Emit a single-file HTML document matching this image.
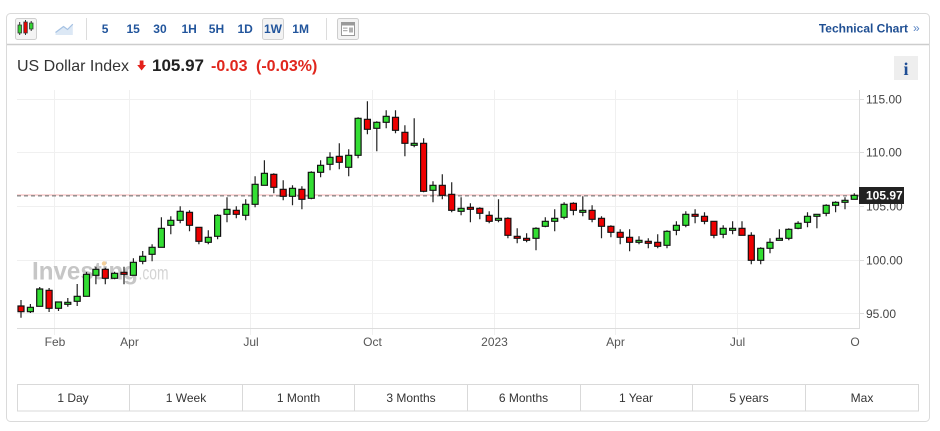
<!DOCTYPE html>
<html><head><meta charset="utf-8"><style>
html,body{margin:0;padding:0;background:#fff;}
body{width:940px;height:431px;overflow:hidden;font-family:"Liberation Sans",Arial,sans-serif;}
svg{display:block;}
</style></head><body>
<svg width="940" height="431" viewBox="0 0 940 431" xmlns="http://www.w3.org/2000/svg" font-family="Liberation Sans, Arial, sans-serif">
<rect x="6.5" y="13.5" width="923" height="408" rx="4" fill="#fff" stroke="#dadada"/>
<line x1="7" y1="44.5" x2="929" y2="44.5" stroke="#cdcdcd" stroke-width="1.5"/>
<rect x="15.5" y="18.5" width="21" height="21" rx="2" fill="#f4f4f4" stroke="#cfcfcf"/>
<path d="M19.7 22V35 M25.5 20V35 M31.2 21V31" stroke="#333" stroke-width="1"/>
<path d="M18 25h3.5v8h-3.5z M29.5 23h3.5v6h-3.5z" fill="#33d633" stroke="#333" stroke-width="0.8"/>
<path d="M23.8 22h3.5v11h-3.5z" fill="#e00" stroke="#333" stroke-width="0.8"/>
<path d="M55.5 35 L55.5 32.5 L63.5 26.5 L67.5 29.5 L72.8 24.2 L72.8 35 Z" fill="#dce8f5"/>
<path d="M55.5 32.5 L63.5 26.5 L67.5 29.5 L72.8 24.2" fill="none" stroke="#a6c2e3" stroke-width="1.2"/>
<path d="M86.5 18V40 M326.5 18V40" stroke="#dcdcdc"/>
<rect x="262.5" y="18.5" width="21" height="21" rx="2" fill="#f3f3f3" stroke="#d2d2d2"/>
<g font-size="12" font-weight="bold" fill="#22559c">
<text x="101.7" y="33">5</text><text x="126.5" y="33">15</text><text x="153.3" y="33">30</text><text x="181.5" y="33">1H</text><text x="208.8" y="33">5H</text><text x="237.5" y="33">1D</text><text x="264" y="33">1W</text><text x="292.3" y="33">1M</text>
</g>
<rect x="337.5" y="18.5" width="21" height="21" rx="2" fill="#f3f3f3" stroke="#cdcdcd"/>
<rect x="341.5" y="22.5" width="13" height="13" fill="#fff" stroke="#9a9a9a"/>
<path d="M342 23h12v2.5h-12z" fill="#9a9a9a"/>
<path d="M343 27.5h4.5v1.3h-4.5z M343 30h4.5v1.3h-4.5z M349 27.5h4v5h-4z" fill="#b0b0b0"/>
<text x="908" y="32.5" font-size="12" font-weight="bold" fill="#1f4f93" text-anchor="end">Technical Chart</text>
<text x="913" y="32" font-size="12" fill="#5b86c4">»</text>
<text x="17" y="71" font-size="16" fill="#333">US Dollar Index</text>
<path d="M139.7 60.5 H143.5 V65 H146 L141.6 70.5 L137.2 65 H139.7 Z" fill="#e3211a"/>
<text x="152" y="71" font-size="17" font-weight="bold" fill="#222">105.97</text>
<text x="211" y="71" font-size="16" font-weight="bold" fill="#e0261d">-0.03</text>
<text x="256" y="71" font-size="16" font-weight="bold" fill="#e0261d">(-0.03%)</text>
<rect x="894" y="56" width="24" height="24" fill="#eeeeee"/>
<text x="906" y="75" font-size="18" font-weight="bold" fill="#1f4e95" text-anchor="middle" font-family="Liberation Serif, serif">i</text>
<path stroke="#f0f0f0" fill="none" d="M17 99.5H859 M17 152.5H859 M17 206.5H859 M17 260.5H859 M17 313.5H859 M54.5 90V335 M129.5 90V335 M250.5 90V335 M372.5 90V335 M494.5 90V335 M615.5 90V335 M737.5 90V335"/>
<path stroke="#dcdcdc" fill="none" d="M17 328.5H860 M859.5 90V329 M859 99.5H864 M859 152.5H864 M859 206.5H864 M859 260.5H864 M859 313.5H864"/>
<text x="32" y="279.5" font-size="25" font-weight="bold" fill="#c6c6c6" textLength="106" lengthAdjust="spacingAndGlyphs">Investing</text>
<text x="138.5" y="279.5" font-size="19" fill="#d4d4d4" textLength="30" lengthAdjust="spacingAndGlyphs">.com</text>
<circle cx="104" cy="263.5" r="2.2" fill="#f3cf9a"/>
<line x1="17" y1="195" x2="859" y2="195" stroke="#f4b0b0" stroke-width="1"/>
<line x1="17" y1="195.8" x2="859" y2="195.8" stroke="#8c8c8c" stroke-width="1.4" stroke-dasharray="4,3"/>
<path fill="none" stroke="#222" stroke-width="1.2" d="M21 300V317.7 M30.4 304V313 M39.7 287V306.3 M49.1 288V312 M58.5 302V311 M67.8 298V306.7 M77.2 284V306 M86.5 272V296.3 M95.9 266.7V284.3 M105.3 267.7V284.3 M114.6 271.7V279.3 M124 266.7V284.3 M133.4 258.3V275.3 M142.7 251V264.3 M152.1 244.3V261.3 M161.4 217.3V247.3 M170.8 216.3V234.3 M180.2 206.3V223.3 M189.5 210.3V231.3 M198.9 227.3V244.3 M208.3 230.3V244.3 M217.6 214.3V239.3 M227 197.3V222.3 M236.3 206.3V218.3 M245.7 199.3V220.3 M255.1 176.3V207.3 M264.4 160.3V185.3 M273.8 173.3V193.3 M283.2 180.3V200.3 M292.5 185.3V205.3 M301.9 186.3V209.3 M311.3 171.3V199.3 M320.6 160.3V177.3 M330 152.3V170.3 M339.3 143.3V169.3 M348.7 149.3V176.3 M358.1 117.3V158.3 M367.4 101.3V134.3 M376.8 121.3V151.3 M386.2 110.3V128.3 M395.5 110.3V133.3 M404.9 125.3V156.3 M414.2 118.3V147.3 M423.6 138.3V192.3 M433 181.3V202.3 M442.3 174.3V199.3 M451.7 182.3V212.3 M461.1 197.3V215.3 M470.4 203.3V222.3 M479.8 207.3V219.3 M489.2 211.3V223.3 M498.5 199.3V222.3 M507.9 217.3V238.3 M517.2 228.3V243.3 M526.6 233.3V242.3 M536 227.3V250.3 M545.3 217.3V227.3 M554.7 209.3V231.3 M564.1 202.3V219.3 M573.4 202.3V215.3 M582.8 196.3V216.3 M592.1 205.3V222.3 M601.5 216.3V238.3 M610.9 225.3V237.3 M620.2 229.3V244.3 M629.6 229.3V251.3 M639 236.3V244.3 M648.3 238.3V248.3 M657.7 234.3V248.3 M667 230.3V248.3 M676.4 221.3V235.3 M685.8 211.3V227.3 M695.1 209.3V223.3 M704.5 212.3V224.3 M713.9 221.3V238.3 M723.2 225.3V238.3 M732.6 221.3V234.3 M742 221.3V235.3 M751.3 232.3V264.3 M760.7 247.3V264.3 M770 238.3V253.3 M779.4 229.3V240.3 M788.8 228.3V240.3 M798.1 221.3V229.3 M807.5 212.3V227.3 M816.9 214.3V228.3 M826.2 204.3V216.3 M835.6 201.3V212.3 M845 197.3V209.3 M854.3 193.3V199.3"/>
<path fill="#ee0000" stroke="#111" stroke-width="1.2" d="M18 306h6v5.7h-6z M46.1 290.3h6v18h-6z M102.3 269.3h6v9h-6z M121 272.3h6v2h-6z M186.5 212.3h6v13h-6z M195.9 227.3h6v14h-6z M233.3 210.3h6v4h-6z M270.8 174.3h6v13h-6z M280.2 189.3h6v7h-6z M298.9 189.3h6v10h-6z M336.3 156.3h6v6h-6z M364.4 119.3h6v10h-6z M392.5 117.3h6v13h-6z M401.9 132.3h6v11h-6z M420.6 143.3h6v48h-6z M439.3 185.3h6v10h-6z M448.7 194.3h6v16h-6z M467.4 207.3h6v2h-6z M476.8 208.3h6v5h-6z M486.2 215.3h6v6h-6z M504.9 218.3h6v17h-6z M514.2 236.3h6v2h-6z M523.6 238.3h6v2h-6z M570.4 203.3h6v7h-6z M589.1 210.3h6v9h-6z M598.5 218.3h6v8h-6z M607.9 226.3h6v6h-6z M617.2 232.3h6v5h-6z M626.6 237.3h6v5h-6z M645.3 241.3h6v2h-6z M654.7 242.3h6v4h-6z M692.1 214.3h6v2h-6z M701.5 216.3h6v5h-6z M710.9 221.3h6v14h-6z M739 228.3h6v7h-6z M748.3 235.3h6v25h-6z"/>
<path fill="#33de33" stroke="#111" stroke-width="1.2" d="M27.4 307.3h6v4.4h-6z M36.7 289h6v17.3h-6z M55.5 302h6v6.3h-6z M64.8 302.3h6v2h-6z M74.2 296.3h6v5h-6z M83.5 274.3h6v22h-6z M92.9 269.3h6v6h-6z M111.6 273.3h6v5h-6z M130.4 262.3h6v13h-6z M139.7 256.3h6v5h-6z M149.1 247.3h6v7h-6z M158.4 228.3h6v19h-6z M167.8 220.3h6v5h-6z M177.2 211.3h6v9h-6z M205.3 237.3h6v5h-6z M214.6 215.3h6v21h-6z M224 209.3h6v5h-6z M242.7 204.3h6v11h-6z M252.1 184.3h6v20h-6z M261.4 173.3h6v12h-6z M289.5 188.3h6v8h-6z M308.3 172.3h6v26h-6z M317.6 165.3h6v7h-6z M327 157.3h6v7h-6z M345.7 155.3h6v12h-6z M355.1 118.3h6v37h-6z M373.8 122.3h6v6h-6z M383.2 116.3h6v6h-6z M411.2 143.3h6v2h-6z M430 185.3h6v5h-6z M458.1 208.3h6v3h-6z M495.5 218.3h6v2h-6z M533 228.3h6v10h-6z M542.3 221.3h6v5h-6z M551.7 218.3h6v3h-6z M561.1 204.3h6v13h-6z M579.8 210.3h6v2h-6z M636 240.3h6v2h-6z M664 231.3h6v14h-6z M673.4 225.3h6v5h-6z M682.8 214.3h6v11h-6z M720.2 228.3h6v6h-6z M729.6 228.3h6v2h-6z M757.7 248.3h6v12h-6z M767 242.3h6v6h-6z M776.4 238.3h6v2h-6z M785.8 229.3h6v9h-6z M795.1 223.3h6v5h-6z M804.5 216.3h6v6h-6z M813.9 214.3h6v2h-6z M823.2 205.3h6v8h-6z M832.6 202.3h6v3h-6z M842 200.3h6v2h-6z M851.3 195.3h6v4h-6z"/>
<g font-size="12" fill="#444">
<text x="866" y="103.7">115.00</text><text x="866" y="156.7">110.00</text><text x="866" y="210.7">105.00</text><text x="866" y="264.5">100.00</text><text x="866" y="318">95.00</text>
</g>
<rect x="859" y="187" width="45" height="17" fill="#222"/>
<text x="866" y="199.7" font-size="12" font-weight="bold" fill="#fff">105.97</text>
<g font-size="12" fill="#555" text-anchor="middle">
<text x="55" y="346">Feb</text><text x="129.5" y="346">Apr</text><text x="251" y="346">Jul</text><text x="372.5" y="346">Oct</text><text x="494.5" y="346">2023</text><text x="615.5" y="346">Apr</text><text x="737.5" y="346">Jul</text><text x="855" y="346">O</text>
</g>
<rect x="17.5" y="384.5" width="901" height="26.5" fill="#fff" stroke="#d9d9d9"/>
<path stroke="#d9d9d9" d="M129.5 384.5V411 M242.5 384.5V411 M354.5 384.5V411 M467.5 384.5V411 M580.5 384.5V411 M692.5 384.5V411 M805.5 384.5V411"/>
<g font-size="12" fill="#333" text-anchor="middle">
<text x="73" y="402">1 Day</text><text x="186" y="402">1 Week</text><text x="298.5" y="402">1 Month</text><text x="411" y="402">3 Months</text><text x="523.5" y="402">6 Months</text><text x="636" y="402">1 Year</text><text x="749" y="402">5 years</text><text x="862" y="402">Max</text>
</g>
</svg>
</body></html>
